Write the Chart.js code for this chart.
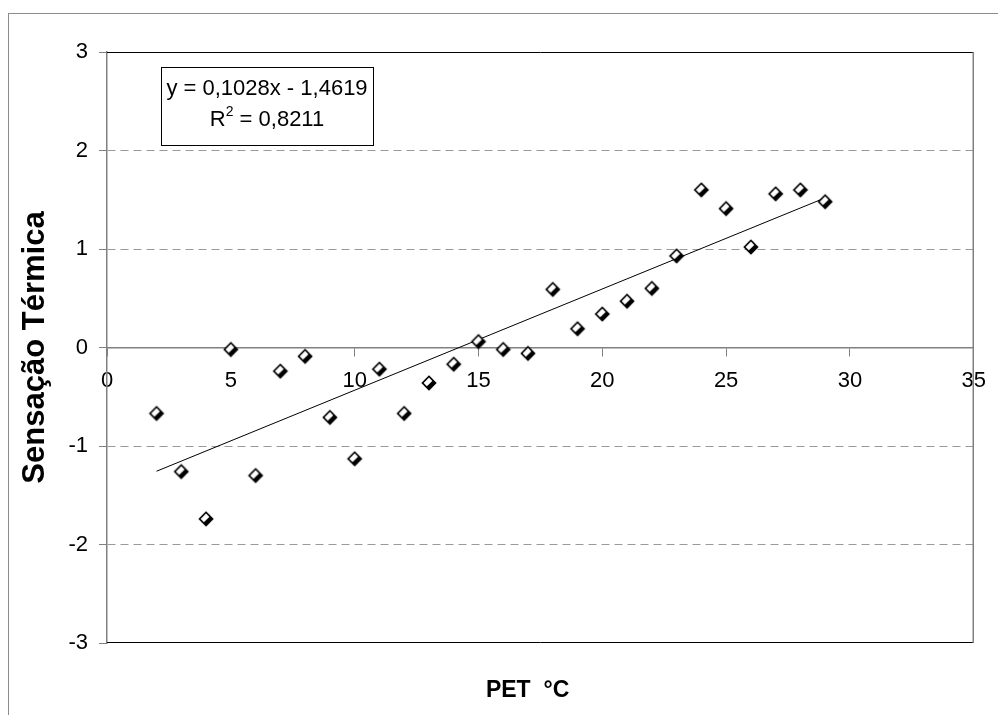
<!DOCTYPE html>
<html>
<head>
<meta charset="utf-8">
<script src="https://cdn.jsdelivr.net/npm/chart.js@4.4.0/dist/chart.umd.min.js"></script>
<style>
  html, body { margin: 0; padding: 0; background: #fff; }
  #wrap { position: relative; width: 998px; height: 715px; overflow: hidden; }
  #moldura { position: absolute; left: 8px; top: 13px; width: 1200px; height: 1000px; border: 1px solid #8c8c8c; }
  canvas { position: absolute; left: 0; top: 0; }
</style>
</head>
<body>
<div id="wrap">
  <div id="moldura"></div>
  <canvas id="grafico" width="998" height="715"></canvas>
</div>
<script>
// dados
const pet = [2, 3, 4, 5, 6, 7, 8, 9, 10, 11, 12, 13, 14, 15, 16, 17, 18, 19, 20, 21, 22, 23, 24, 25, 26, 27, 28, 29];
const sensacao = [-0.67, -1.26, -1.74, -0.02, -1.30, -0.24, -0.09, -0.71, -1.13, -0.22, -0.67, -0.36, -0.17, 0.06,
  -0.02, -0.06, 0.59, 0.19, 0.34, 0.47, 0.60, 0.93, 1.60, 1.41, 1.02, 1.56, 1.60, 1.48];

// linha de tendência (y = 0,1028x - 1,4619) entre o primeiro e o último ponto
const tendenciaX = [2, 29];
const tendenciaY = [-1.2563, 1.5193];
const equacao = ['y = 0,1028x - 1,4619', 'R', '2', ' = 0,8211'];

const xMin = 0, xMax = 35, xPasso = 5;
const yMin = -3, yMax = 3, yPasso = 1;

const FONTE = '"Liberation Sans", Arial, Helvetica, sans-serif';
const CINZA = '#808080';

// marcador: losango com contorno preto, metade de cima/esquerda branca
function criaMarcador() {
  const c = document.createElement('canvas');
  c.width = 18; c.height = 18;
  const g = c.getContext('2d');
  g.fillStyle = '#000';
  g.beginPath();
  g.moveTo(9, 1.3); g.lineTo(16.7, 9); g.lineTo(9, 16.7); g.lineTo(1.3, 9);
  g.closePath();
  g.fill();
  g.fillStyle = '#fff';
  g.beginPath();
  g.moveTo(9, 3.6); g.lineTo(12.3, 6.9); g.lineTo(6.9, 12.3); g.lineTo(3.6, 9);
  g.closePath();
  g.fill();
  return c;
}

const pontos = pet.map((x, i) => ({ x, y: sensacao[i] }));
const tendencia = tendenciaX.map((x, i) => ({ x, y: tendenciaY[i] }));

const molduraPlugin = {
  id: 'molduraPlot',
  beforeDatasetsDraw(chart) {
    const { ctx, chartArea: a } = chart;
    ctx.save();
    ctx.lineWidth = 1;
    ctx.strokeStyle = '#000';
    ctx.beginPath();
    ctx.moveTo(a.left, a.top + 0.5); ctx.lineTo(a.right, a.top + 0.5);
    ctx.moveTo(a.left, a.bottom - 0.5); ctx.lineTo(a.right, a.bottom - 0.5);
    ctx.stroke();
    ctx.strokeStyle = CINZA;
    ctx.lineWidth = 1.5;
    ctx.beginPath();
    ctx.moveTo(a.right - 0.5, a.top); ctx.lineTo(a.right - 0.5, a.bottom);
    ctx.stroke();
    ctx.restore();
  }
};

const equacaoPlugin = {
  id: 'caixaEquacao',
  afterDatasetsDraw(chart) {
    const { ctx, chartArea: a } = chart;
    const bx = a.left + 54, by = a.top + 15, bw = 212, bh = 78;
    ctx.save();
    ctx.fillStyle = '#fff';
    ctx.fillRect(bx, by, bw, bh);
    ctx.strokeStyle = '#000';
    ctx.lineWidth = 1;
    ctx.strokeRect(bx + 0.5, by + 0.5, bw, bh);
    ctx.fillStyle = '#000';
    ctx.textBaseline = 'middle';
    ctx.font = '22px ' + FONTE;
    ctx.textAlign = 'center';
    ctx.fillText(equacao[0], bx + bw / 2, by + 22);
    // segunda linha com expoente
    const wR = ctx.measureText(equacao[1]).width;
    const wResto = ctx.measureText(equacao[3]).width;
    ctx.font = '14px ' + FONTE;
    const wExp = ctx.measureText(equacao[2]).width;
    const total = wR + wExp + wResto;
    let x = bx + bw / 2 - total / 2;
    ctx.textAlign = 'left';
    ctx.font = '22px ' + FONTE;
    ctx.fillText(equacao[1], x, by + 53);
    x += wR;
    ctx.font = '14px ' + FONTE;
    ctx.fillText(equacao[2], x, by + 45);
    x += wExp;
    ctx.font = '22px ' + FONTE;
    ctx.fillText(equacao[3], x, by + 53);
    ctx.restore();
  }
};

const marcador = criaMarcador();

new Chart(document.getElementById('grafico'), {
  type: 'scatter',
  data: {
    datasets: [
      {
        label: 'Sensação Térmica',
        data: pontos,
        pointStyle: marcador,
        pointRadius: 8,
        showLine: false,
        order: 1
      },
      {
        label: 'Tendência',
        data: tendencia,
        showLine: true,
        borderColor: '#000',
        borderWidth: 1,
        pointRadius: 0,
        fill: false,
        order: 2
      }
    ]
  },
  options: {
    responsive: false,
    animation: false,
    events: [],
    layout: { padding: { left: 0, top: 52, right: 22, bottom: 0 } },
    plugins: {
      legend: { display: false },
      tooltip: { enabled: false }
    },
    scales: {
      x: {
        type: 'linear',
        position: { y: 0 },
        min: xMin,
        max: xMax,
        ticks: {
          stepSize: xPasso,
          padding: 12,
          color: '#000',
          font: { family: FONTE, size: 22 },
          maxRotation: 0,
          callback: (v) => String(v)
        },
        grid: { drawOnChartArea: false, drawTicks: true, tickLength: 8, tickColor: CINZA },
        border: { display: true, color: CINZA, width: 1.5 }
      },
      x2: {
        type: 'linear',
        position: 'bottom',
        min: xMin,
        max: xMax,
        ticks: { display: false },
        grid: { display: false },
        border: { display: false },
        title: {
          display: true,
          text: 'PET  °C    ',
          color: '#000',
          font: { family: FONTE, size: 23, weight: 'bold' },
          padding: { top: 0, bottom: 11 }
        },
        afterFit: (s) => { s.height = 72; }
      },
      y: {
        type: 'linear',
        position: 'left',
        min: yMin,
        max: yMax,
        ticks: {
          stepSize: yPasso,
          padding: 11,
          color: '#000',
          font: { family: FONTE, size: 22 },
          callback: (v) => String(v)
        },
        grid: {
          color: (c) => (c.tick && (c.tick.value === 0 || c.tick.value === yMin || c.tick.value === yMax)) ? 'rgba(0,0,0,0)' : '#9a9a9a',
          lineWidth: 1,
          drawTicks: true,
          tickLength: 8,
          tickColor: CINZA,
          tickBorderDash: []
        },
        border: { display: true, color: CINZA, width: 1.5, dash: [8, 5] },
        title: {
          display: true,
          text: 'Sensação Térmica',
          color: '#000',
          font: { family: FONTE, size: 31, weight: 'bold' },
          padding: { top: 17, bottom: 0 }
        },
        afterFit: (s) => { s.width = 107; }
      }
    }
  },
  plugins: [molduraPlugin, equacaoPlugin]
});
</script>
</body>
</html>
